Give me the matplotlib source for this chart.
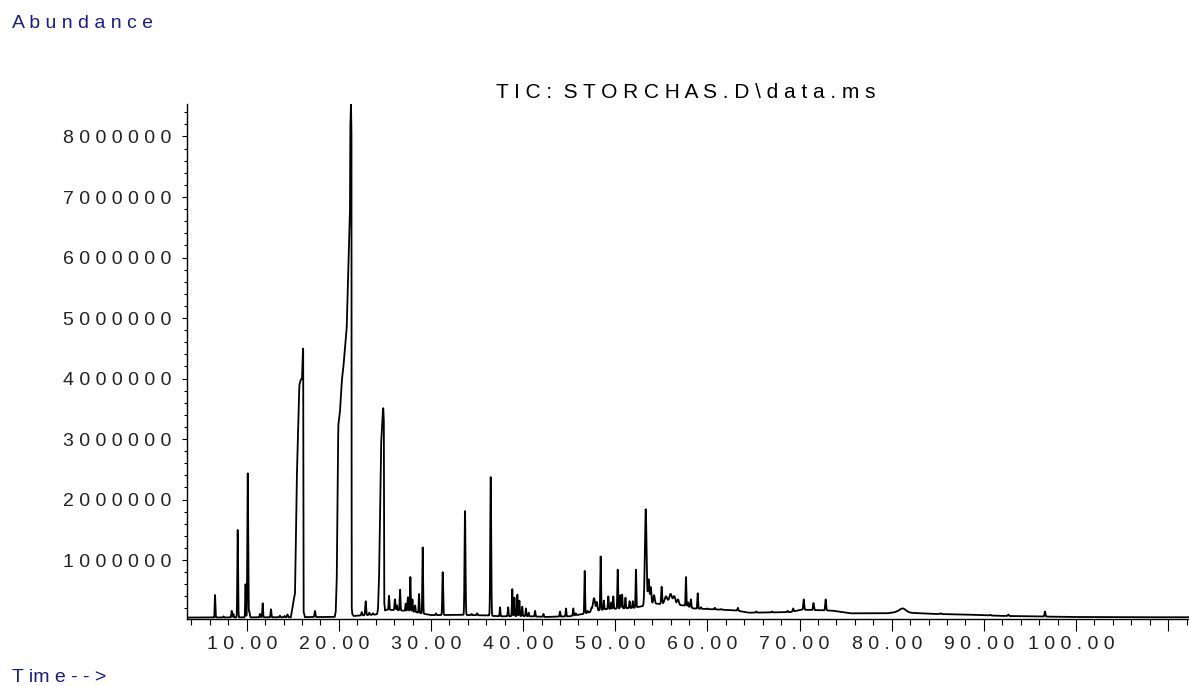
import numpy as np
import matplotlib
matplotlib.use("Agg")
import matplotlib.pyplot as plt
import matplotlib.transforms as mtransforms
from matplotlib.ticker import MultipleLocator, FuncFormatter

plt.rcParams['font.family'] = ['Liberation Sans', 'DejaVu Sans']

# --- data (time in min, abundance in counts) ---
# narrow peaks: retention time, apex abundance, width (sigma, min)
peak_time = [6.56, 7.47, 8.37, 8.55, 9.02, 9.87, 10.11, 10.28, 11.44, 11.73,
             12.63, 13.61, 14.1, 14.42, 17.41, 22.48, 22.91, 23.3, 23.7, 25.44,
             26.09, 26.3, 26.64, 27.25, 27.5, 27.76, 27.98, 28.27, 28.7, 29.1,
             29.7, 30.54, 31.27, 33.69, 34.4, 35.0, 36.48, 37.49, 38.37, 38.82,
             39.05, 39.37, 39.59, 39.9, 40.3, 40.6, 41.29, 42.2, 44.0, 44.65,
             45.44, 45.7, 46.68, 47.0, 47.4, 47.69, 48.0, 48.41, 48.75, 49.24,
             49.55, 49.78, 50.26, 50.55, 50.74, 51.1, 51.55, 51.9, 52.24, 53.3,
             53.62, 53.85, 54.2, 55.03, 55.5, 56.0, 56.4, 56.8, 57.67, 57.9,
             58.2, 58.94, 59.3, 60.0, 60.8, 61.5, 63.3, 65.3, 67.0, 68.7,
             69.3, 70.45, 71.5, 72.83, 81.19, 85.3, 90.7, 92.65, 96.63]
peak_apex = [423e3, 70e3, 159e3, 110e3, 1497e3, 600e3, 2435e3, 150e3, 110e3, 286e3,
             187e3, 80e3, 75e3, 100e3, 159e3, 140e3, 320e3, 130e3, 120e3, 410e3,
             350e3, 250e3, 510e3, 280e3, 385e3, 720e3, 350e3, 250e3, 440e3, 1210e3,
             100e3, 120e3, 800e3, 1810e3, 110e3, 120e3, 2370e3, 220e3, 220e3, 520e3,
             380e3, 430e3, 330e3, 230e3, 200e3, 130e3, 160e3, 110e3, 150e3, 200e3,
             200e3, 120e3, 820e3, 160e3, 200e3, 370e3, 300e3, 1060e3, 330e3, 400e3,
             300e3, 400e3, 840e3, 420e3, 430e3, 380e3, 320e3, 320e3, 840e3, 1840e3,
             680e3, 550e3, 420e3, 560e3, 400e3, 440e3, 400e3, 350e3, 720e3, 300e3,
             350e3, 450e3, 220e3, 200e3, 210e3, 190e3, 210e3, 150e3, 150e3, 160e3,
             200e3, 350e3, 290e3, 350e3, 200e3, 120e3, 95e3, 100e3, 150e3]
peak_sigma = [.035, .03, .04, .04, .04, .035, .045, .05, .04, .04,
              .04, .05, .05, .05, .05, .05, .05, .05, .05, .04,
              .05, .04, .04, .04, .05, .04, .04, .04, .035, .04,
              .04, .04, .045, .05, .04, .05, .05, .04, .04, .04,
              .04, .04, .04, .04, .04, .04, .04, .04, .04, .04,
              .04, .04, .04, .04, .05, .12, .06, .04, .04, .04,
              .04, .04, .04, .04, .04, .04, .04, .04, .04, .09,
              .07, .07, .08, .05, .15, .15, .12, .10, .04, .05,
              .05, .04, .05, .05, .05, .05, .05, .05, .05, .05,
              .05, .05, .05, .05, .35, .06, .06, .06, .05]

# overloaded (fronting) peaks traced as outline vertices
front1_time = [14.80, 14.88, 15.06, 15.24, 15.34, 15.43, 15.60, 15.71, 15.86, 16.00, 16.11, 16.13, 16.17, 16.30]
front1_abund = [70e3, 130e3, 310e3, 450e3, 1300e3, 2320e3, 3230e3, 3890e3, 3980e3, 4000e3, 4500e3, 4450e3, 150e3, 70e3]

front2_time = [19.55, 19.66, 19.77, 19.87, 19.94, 20.12, 20.31, 20.48, 20.85, 21.03, 21.21, 21.24, 21.32, 21.37, 21.39, 21.45, 21.60]
front2_abund = [60e3, 150e3, 670e3, 2320e3, 3230e3, 3450e3, 3950e3, 4170e3, 4830e3, 5820e3, 6810e3, 8140e3, 8550e3, 8000e3, 230e3, 110e3, 75e3]

front3_time = [24.15, 24.25, 24.36, 24.47, 24.57, 24.68, 24.76, 24.82, 24.88, 24.92, 25.00]
front3_abund = [100e3, 200e3, 670e3, 1780e3, 2870e3, 3200e3, 3450e3, 3510e3, 3300e3, 300e3, 200e3]

# baseline drift
base_time = [3.45, 14, 19.5, 21.5, 23, 24, 25.2, 26.5, 28, 29.3, 30, 33, 36, 37.5, 40,
             42.5, 45, 46.5, 47.5, 49, 52, 53, 54.3, 57.5, 58.5, 63, 64.5, 69, 70.2,
             73.5, 75.5, 79.5, 80.5, 84.5, 88, 91.7, 99, 106, 112.3]
base_abund = [50e3, 55e3, 60e3, 75e3, 90e3, 100e3, 180e3, 170e3, 150e3, 110e3, 90e3, 95e3,
              85e3, 70e3, 75e3, 60e3, 70e3, 110e3, 150e3, 190e3, 210e3, 240e3, 280e3,
              250e3, 200e3, 170e3, 130e3, 140e3, 180e3, 165e3, 120e3, 120e3, 140e3,
              110e3, 100e3, 78e3, 60e3, 55e3, 55e3]

x_major = [10, 20, 30, 40, 50, 60, 70, 80, 90, 100, 110]
x_labelled_max = 100
y_major = [1e6, 2e6, 3e6, 4e6, 5e6, 6e6, 7e6, 8e6]

TEXT_BLUE = '#1c1c8a'


def spaced(s):
    # ChemStation style letter spacing
    return " ".join(s)


def build_trace(t):
    base = np.interp(t, base_time, base_abund)
    sig = base.copy()
    for rt, h, s in zip(peak_time, peak_apex, peak_sigma):
        amp = max(h - np.interp(rt, base_time, base_abund), 0)
        sig += amp * np.exp(-0.5 * ((t - rt) / s) ** 2)
    for vt, va in [(front1_time, front1_abund), (front2_time, front2_abund), (front3_time, front3_abund)]:
        m = (t >= vt[0]) & (t <= vt[-1])
        sig[m] = np.maximum(sig[m], np.interp(t[m], vt, va))
    return sig


def draw_chart():
    fig = plt.figure(figsize=(11.89, 6.86), dpi=100)
    ax = fig.add_axes([187 / 1189, 67 / 686, 1002 / 1189, 515 / 686])

    t = np.arange(3.52, 112.26, 0.004)
    ax.plot(t, build_trace(t), color='black', lw=1.3)

    ax.set_xlim(3.52, 112.26)
    ax.set_ylim(26000, 8.537e6)

    for side in ['top', 'right']:
        ax.spines[side].set_visible(False)
    for side in ['left', 'bottom']:
        ax.spines[side].set_linewidth(1.0)

    ax.set_xticks(x_major)
    ax.xaxis.set_minor_locator(MultipleLocator(2))
    ax.xaxis.set_major_formatter(FuncFormatter(
        lambda v, p: spaced(f"{v:.2f}") if v <= x_labelled_max else ""))
    ax.set_yticks(y_major)
    ax.yaxis.set_minor_locator(MultipleLocator(200000))
    ax.yaxis.set_major_formatter(FuncFormatter(lambda v, p: spaced(str(int(round(v))))))

    ax.tick_params(axis='x', which='major', length=8.9, width=0.8, pad=3,
                   labelsize=14, labelcolor='#222222')
    ax.tick_params(axis='x', which='minor', length=4.1, width=0.8)
    ax.tick_params(axis='y', which='major', length=3.4, width=0.8, pad=7.5,
                   labelsize=14, labelcolor='#222222')
    ax.tick_params(axis='y', which='minor', length=2.2, width=0.8)

    # time labels sit a little left of their ticks in the original print
    shift = mtransforms.ScaledTranslation(-5 / 100, 0, fig.dpi_scale_trans)
    for lab in ax.get_xticklabels():
        lab.set_transform(lab.get_transform() + shift)

    # header / axis captions
    fig.text(12 / 1189, 1 - 28.3 / 686, spaced("Abundance"), color=TEXT_BLUE,
             fontsize=14, ha='left', va='baseline')
    fig.text(686 / 1189, 1 - 98.3 / 686, spaced("TIC: STORCHAS.D\\data.ms").replace(":  ", ": "),
             color='black', fontsize=15, ha='center', va='baseline')
    fig.text(11.7 / 1189, 1 - 681.7 / 686, "T im e - - >", color=TEXT_BLUE,
             fontsize=14, ha='left', va='baseline')

    fig.savefig("out.png", dpi=100)


if __name__ == "__main__":
    draw_chart()
